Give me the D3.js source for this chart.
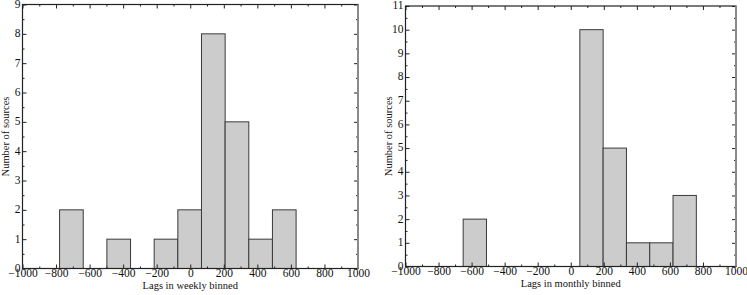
<!DOCTYPE html>
<html>
<head>
<meta charset="utf-8">
<script src="https://cdn.jsdelivr.net/npm/d3@7"></script>
<style>
  body { margin: 0; background: #fff; }
  svg text { font-family: "Liberation Serif", "Times New Roman", Times, serif !important; fill: #111; }
  .axis path { display: none; }
  .axis line { stroke: #222; }
</style>
</head>
<body>
<svg id="chart" width="747" height="295" font-family="Liberation Serif"></svg>
<script>
// bin edges and counts
var weeklyEdges = [-779, -638, -497, -356, -215, -74, 67, 208, 349, 490, 631];
var weeklyCounts = [2, 0, 1, 0, 1, 2, 8, 5, 1, 2];

var monthlyEdges = [-651, -510, -369, -228, -87, 55, 196, 337, 478, 619, 760];
var monthlyCounts = [2, 0, 0, 0, 0, 10, 5, 1, 1, 3];

var xTicks = [-1000, -800, -600, -400, -200, 0, 200, 400, 600, 800, 1000];
var weeklyYTicks = [0, 1, 2, 3, 4, 5, 6, 7, 8, 9];
var monthlyYTicks = [0, 1, 2, 3, 4, 5, 6, 7, 8, 9, 10, 11];

var svg = d3.select("#chart");
var fmt = function(d) { return d < 0 ? "\u2212" + Math.abs(d) : String(d); };

function drawPanel(opt) {
  var x = d3.scaleLinear().domain([-1000, 1000]).range([opt.left, opt.right]);
  var y = d3.scaleLinear().domain([0, opt.ymax]).range([opt.bottom, opt.top]);
  var g = svg.append("g");

  var bins = opt.counts.map(function(c, i) {
    return {x0: opt.edges[i], x1: opt.edges[i + 1], n: c};
  }).filter(function(b) { return b.n > 0; });

  g.selectAll("rect.bar")
    .data(bins)
    .enter()
    .append("rect")
    .attr("class", "bar")
    .attr("x", function(b) { return x(b.x0); })
    .attr("y", function(b) { return y(b.n); })
    .attr("width", function(b) { return x(b.x1) - x(b.x0); })
    .attr("height", function(b) { return y(0) - y(b.n); })
    .attr("fill", "#cccccc")
    .attr("stroke", "#3a3a3a")
    .attr("stroke-width", 1);

  var minorX = d3.range(-900, 1000, 200);
  var minorY = d3.range(0.5, opt.ymax, 1);

  // major ticks, pointing inward
  g.append("g").attr("class", "axis")
    .attr("transform", "translate(0," + opt.bottom + ")")
    .call(d3.axisBottom(x).tickValues(xTicks).tickFormat(fmt).tickSizeInner(-4).tickSizeOuter(0).tickPadding(0))
    .attr("font-family", null)
    .selectAll("text").style("font-size", "11.5px");
  g.append("g").attr("class", "axis")
    .attr("transform", "translate(0," + opt.top + ")")
    .call(d3.axisTop(x).tickValues(xTicks).tickFormat("").tickSizeInner(-4).tickSizeOuter(0));
  g.append("g").attr("class", "axis")
    .attr("transform", "translate(" + opt.left + ",0)")
    .call(d3.axisLeft(y).tickValues(opt.yTicks).tickFormat(d3.format("d")).tickSizeInner(-4).tickSizeOuter(0).tickPadding(2))
    .attr("font-family", null)
    .selectAll("text").style("font-size", "11.5px").attr("dy", "0.25em");
  g.append("g").attr("class", "axis")
    .attr("transform", "translate(" + opt.right + ",0)")
    .call(d3.axisRight(y).tickValues(opt.yTicks).tickFormat("").tickSizeInner(-4).tickSizeOuter(0));

  // minor ticks
  g.append("g").attr("class", "axis")
    .attr("transform", "translate(0," + opt.bottom + ")")
    .call(d3.axisBottom(x).tickValues(minorX).tickFormat("").tickSizeInner(-2).tickSizeOuter(0));
  g.append("g").attr("class", "axis")
    .attr("transform", "translate(0," + opt.top + ")")
    .call(d3.axisTop(x).tickValues(minorX).tickFormat("").tickSizeInner(-2).tickSizeOuter(0));
  g.append("g").attr("class", "axis")
    .attr("transform", "translate(" + opt.left + ",0)")
    .call(d3.axisLeft(y).tickValues(minorY).tickFormat("").tickSizeInner(-2).tickSizeOuter(0));
  g.append("g").attr("class", "axis")
    .attr("transform", "translate(" + opt.right + ",0)")
    .call(d3.axisRight(y).tickValues(minorY).tickFormat("").tickSizeInner(-2).tickSizeOuter(0));

  // frame
  g.append("rect")
    .attr("x", opt.left)
    .attr("y", opt.top)
    .attr("width", opt.right - opt.left)
    .attr("height", opt.bottom - opt.top)
    .attr("fill", "none")
    .attr("stroke", "#222")
    .attr("stroke-width", 1.2);
  g.append("line")
    .attr("x1", opt.right).attr("x2", opt.right)
    .attr("y1", opt.top).attr("y2", opt.bottom)
    .attr("stroke", "#8a8a8a")
    .attr("stroke-width", 2);

  g.append("text")
    .attr("x", (opt.left + opt.right) / 2)
    .attr("y", opt.bottom + 20)
    .attr("text-anchor", "middle")
    .style("font-size", "10.5px")
    .text(opt.xLabel);

  g.append("text")
    .attr("transform", "rotate(-90)")
    .attr("x", -(opt.top + opt.bottom) / 2)
    .attr("y", opt.left - 13.5)
    .attr("text-anchor", "middle")
    .style("font-size", "10.5px")
    .text("Number of sources");
}

drawPanel({
  left: 22.5, right: 358, top: 4.5, bottom: 268.5, ymax: 9,
  edges: weeklyEdges, counts: weeklyCounts, yTicks: weeklyYTicks,
  xLabel: "Lags in weekly binned"
});

drawPanel({
  left: 405.5, right: 736, top: 6, bottom: 266.5, ymax: 11,
  edges: monthlyEdges, counts: monthlyCounts, yTicks: monthlyYTicks,
  xLabel: "Lags in monthly binned"
});
</script>
</body>
</html>
